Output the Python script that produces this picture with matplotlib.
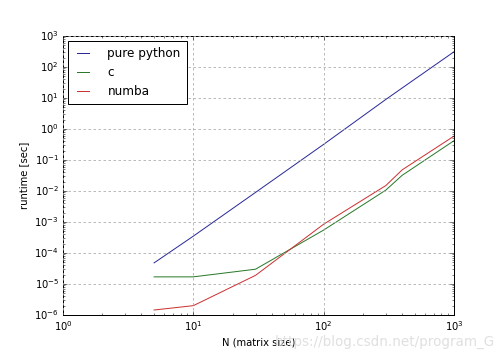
import matplotlib
matplotlib.use("Agg")
import matplotlib.pyplot as plt

plt.style.use("classic")

N = [5, 10, 30, 100, 300, 400, 1000]
pure_python = [4.8e-5, 3.5e-4, 9e-3, 0.32, 9.0, 21.0, 310.0]
c_times = [1.7e-5, 1.7e-5, 3.0e-5, 5.5e-4, 1.07e-2, 3.2e-2, 0.42]
numba_times = [1.45e-6, 2.0e-6, 1.9e-5, 8.5e-4, 1.5e-2, 4.8e-2, 0.59]

fig = plt.figure(figsize=(7, 5), dpi=72, facecolor="white")
ax = fig.add_axes([63/504, 1-315/360, (454-63)/504, (315-36)/360])

ax.loglog(N, pure_python, color="#2b2b99", lw=1.0, label="pure python")
ax.loglog(N, c_times, color="#2a7a2a", lw=1.0, label="c")
ax.loglog(N, numba_times, color="#cc3333", lw=1.0, label="numba")

ax.set_xlim(1, 1000)
ax.set_ylim(1e-6, 1e3)
ax.grid(True, which="major", color="#aaaaaa", linestyle=(0, (2.5, 2.5)), lw=0.8)
ax.set_xlabel("N (matrix size)", fontsize=10)
ax.set_ylabel("runtime [sec]", fontsize=10)
ax.tick_params(labelsize=10)
leg = ax.legend(loc="upper left", fontsize=12, handlelength=1.6,
                handletextpad=1.2, labelspacing=0.5, borderaxespad=0.4,
                borderpad=0.5)
leg.get_frame().set_linewidth(1.0)

fig.text(0.982, 0.05, "https://blog.csdn.net/program_G", ha="right", va="center",
         fontsize=13.5, color="#e0e0e0")

fig.savefig("out.png", dpi=72, facecolor="white")
